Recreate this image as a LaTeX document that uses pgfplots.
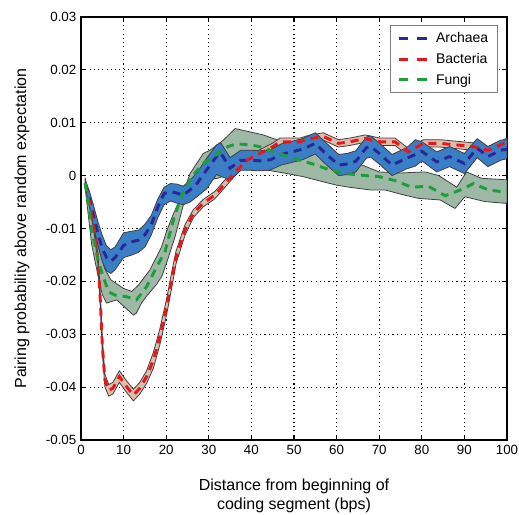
\documentclass[border=0pt]{standalone}
\usepackage{fontspec}
\setmainfont{Liberation Sans}
\usepackage{pgfplots}
\pgfplotsset{compat=1.18}

\definecolor{bandA}{RGB}{58,126,198}
\definecolor{lineA}{RGB}{42,40,150}
\definecolor{bandB}{RGB}{222,188,172}
\definecolor{lineB}{RGB}{232,22,27}
\definecolor{bandF}{RGB}{158,184,166}
\definecolor{lineF}{RGB}{30,158,58}

\begin{document}
\begin{tikzpicture}
\begin{axis}[
    name=ax,
    scale only axis,
    width=319.5pt, height=317.25pt,
    xmin=0, xmax=100, ymin=-0.05, ymax=0.03,
    xtick={0,10,20,30,40,50,60,70,80,90,100},
    ytick={-0.05,-0.04,-0.03,-0.02,-0.01,0,0.01,0.02,0.03},
    scaled y ticks=false,
    yticklabel style={/pgf/number format/fixed, /pgf/number format/precision=2},
    /pgf/number format/assume math mode=true,
    ticklabel style={font=\fontsize{10}{12}\selectfont},
    tick align=inside,
    major tick length=4pt,
    tick style={black, line width=0.9pt},
    axis line style={line width=1.5pt},
    grid=major,
    major grid style={black, line width=0.8pt, dash pattern=on 0.8pt off 2.4pt},
    xlabel={Distance from beginning of\\coding segment (bps)},
    ylabel={Pairing probability above random expectation},
    label style={font=\fontsize{12}{14}\selectfont},
    xlabel style={at={(axis description cs:0.5,-0.132)}, anchor=center, align=center},
    ylabel style={at={(axis description cs:-0.1385,0.5)}, anchor=center},
    legend cell align=left,
    legend style={at={(0.979,0.981)}, anchor=north east, draw=gray, line width=0.8pt,
        font=\fontsize{10.5}{12}\selectfont, row sep=2.5pt, column sep=3pt,
        inner xsep=5pt, inner ysep=3pt, nodes={inner xsep=2pt}},
    legend image code/.code={\draw[#1, dash pattern=on 7pt off 7pt] (0pt,0pt) -- (22pt,0pt);},
]
% confidence bands: fungi, bacteria, archaea
\addplot[fill=bandF, draw=black!75, line width=0.6pt, forget plot] coordinates {
(1,-0.0005) (2.5,-0.0080) (4,-0.0135) (4.5,-0.0145) (5.5,-0.0175) (7,-0.0197) (9.9,-0.0213)
(11.9,-0.0219) (13.5,-0.0207) (16.2,-0.0178) (18.9,-0.0135) (20.1,-0.0105) (21.7,-0.0072)
(24.4,-0.0024) (25.6,0.0004) (28.7,0.0042) (30.3,0.0048) (33.4,0.0067) (36.2,0.0089)
(42.8,0.0077) (45.2,0.0070) (50,0.0060) (54.5,0.0055) (58,0.0052) (60,0.0036) (63,0.0030)
(66,0.0020) (70,0.0007) (75,0.0005) (80.8,0.0007) (84,0.0000) (88.2,-0.0022) (90.5,0.0007)
(94,-0.0005) (100,-0.0008)
(100,-0.0052) (99.1,-0.0052) (94.8,-0.0049) (90.1,-0.0040) (87.8,-0.0062) (84.3,-0.0046)
(79.2,-0.0043) (75,-0.0035) (71.4,-0.0027) (67.8,-0.0027) (63,-0.0022) (60,-0.0018)
(56,-0.0010) (52.2,-0.0002) (48.3,0.0004) (44,0.0010) (40,0.0012) (36.5,0.0017) (35,0.0008)
(33.8,0.0001) (32.2,-0.0005) (28.7,-0.0008) (26,-0.0035) (24,-0.0056) (22.1,-0.0115)
(20.1,-0.0165) (19,-0.0190) (17.8,-0.0205) (15.4,-0.0228) (14.2,-0.0241) (13,-0.0260)
(12.3,-0.0264) (10.7,-0.0252) (8.4,-0.0235) (6,-0.0241) (5,-0.0225) (4,-0.0190) (2.5,-0.0130)
(1,-0.0025)
} -- cycle;
\addplot[fill=bandB, draw=black!75, line width=0.6pt, forget plot] coordinates {
(1,-0.0009) (2,-0.0046) (3,-0.0091) (4,-0.0150) (4.5,-0.0215) (5,-0.0305) (5.6,-0.0375)
(6.5,-0.0395) (7.5,-0.0391) (9,-0.0369) (10.7,-0.0388) (12.3,-0.0404) (13.8,-0.0391)
(15.4,-0.0369) (17,-0.0334) (18.5,-0.0290) (20.1,-0.0233) (21.3,-0.0182) (22.3,-0.0143)
(24.4,-0.0093) (26.4,-0.0064) (28.7,-0.0045) (31.4,-0.0030) (33.8,-0.0008) (36.2,0.0014)
(38.9,0.0036) (42,0.0049) (45.1,0.0062) (46.7,0.0071) (51.4,0.0071) (53.8,0.0077)
(56.9,0.0081) (60.4,0.0068) (63.1,0.0071) (66.7,0.0077) (70.2,0.0071) (73.7,0.0071)
(76.8,0.0052) (80.4,0.0068) (84.3,0.0068) (88.2,0.0065) (92.1,0.0062) (95.6,0.0055)
(98.4,0.0065) (100,0.0071)
(100,0.0057) (98.4,0.0051) (95.6,0.0041) (92.1,0.0048) (88.2,0.0051) (84.3,0.0054)
(80.4,0.0054) (76.8,0.0038) (73.7,0.0057) (70.2,0.0057) (66.7,0.0063) (63.1,0.0057)
(60.4,0.0054) (56.9,0.0067) (53.8,0.0063) (51.4,0.0057) (46.7,0.0057) (45.1,0.0048)
(42,0.0035) (38.9,0.0022) (36.2,0.0000) (33.8,-0.0022) (31.4,-0.0044) (28.7,-0.0059)
(26.4,-0.0079) (24.4,-0.0113) (22.3,-0.0167) (21.3,-0.0212) (20.1,-0.0263) (18.5,-0.0320)
(17,-0.0364) (15.4,-0.0393) (13.8,-0.0413) (12.3,-0.0426) (10.7,-0.0410) (9,-0.0391)
(7.5,-0.0413) (6.5,-0.0417) (5.6,-0.0399) (5,-0.0335) (4.5,-0.0245) (4,-0.0170) (3,-0.0103)
(2,-0.0058) (1,-0.0021)
} -- cycle;
\addplot[fill=bandA, draw=black!75, line width=0.6pt, forget plot] coordinates {
(1,-0.0008) (2,-0.0030) (3,-0.0058) (4,-0.0088) (5,-0.0113) (6,-0.0133) (7,-0.0140)
(8,-0.0135) (10,-0.0108) (12,-0.0105) (13.5,-0.0103) (15,-0.0092) (16.5,-0.0075)
(18,-0.0045) (19.5,-0.0022) (21,-0.0015) (22.5,-0.0016) (24,-0.0020) (25.6,-0.0008)
(27.2,0.0005) (29.5,0.0033) (31.8,0.0058) (32.8,0.0062) (35,0.0034) (37.5,0.0048)
(40,0.0048) (42,0.0047) (44.5,0.0049) (47,0.0060) (50,0.0066) (52,0.0070) (55,0.0081)
(57,0.0066) (58.5,0.0055) (60.5,0.0040) (62.5,0.0042) (64.5,0.0047) (67,0.0073) (68,0.0075)
(70,0.0062) (73,0.0040) (76.5,0.0053) (78.5,0.0068) (80,0.0064) (83.5,0.0045) (86.5,0.0055)
(90,0.0042) (93,0.0070) (95.5,0.0055) (98.5,0.0067) (100,0.0068)
(100,0.0032) (98.5,0.0029) (95.5,0.0017) (93,0.0034) (90,0.0004) (86.5,0.0017) (83.5,0.0007)
(80,0.0028) (78.5,0.0018) (76.5,0.0013) (73,0.0000) (70,0.0022) (68,0.0035) (67,0.0033)
(64.5,0.0007) (62.5,0.0002) (60.5,0.0000) (58.5,0.0014) (57,0.0025) (55,0.0041) (52,0.0030)
(50,0.0026) (47,0.0020) (44.5,0.0011) (42,0.0009) (40,0.0010) (37.5,0.0010) (35,-0.0008)
(33,-0.0002) (31.8,0.0002) (29.5,-0.0025) (27.2,-0.0040) (25.6,-0.0050) (24,-0.0055)
(22.5,-0.0052) (21,-0.0048) (19.5,-0.0055) (18,-0.0080) (16.5,-0.0112) (15,-0.0135)
(13.5,-0.0145) (12,-0.0150) (10,-0.0155) (8,-0.0178) (7,-0.0185) (6,-0.0180) (5,-0.0163)
(4,-0.0132) (3,-0.0098) (2,-0.0060) (1,-0.0022)
} -- cycle;
% mean curves
\addplot[lineA, line width=2.2pt, dash pattern=on 6pt off 4.5pt] coordinates {
(1,-0.0015) (2,-0.0045) (3,-0.0078) (4,-0.0110) (5,-0.0138) (6,-0.0155) (7,-0.0162)
(8,-0.0155) (10,-0.0132) (12,-0.0125) (13.5,-0.0122) (15,-0.0112) (16.5,-0.0093) (18,-0.0060)
(19.5,-0.0034) (21,-0.0030) (22.5,-0.0033) (24,-0.0037) (25.6,-0.0027) (27.2,-0.0015)
(29.5,0.0011) (31.8,0.0036) (32.8,0.0043) (35,0.0014) (37.5,0.0029) (40,0.0029) (42,0.0028)
(44.5,0.0030) (47,0.0040) (50,0.0046) (52,0.0050) (55,0.0061) (57,0.0045) (58.5,0.0034)
(60.5,0.0020) (62.5,0.0022) (64.5,0.0027) (67,0.0053) (68,0.0055) (70,0.0042) (73,0.0020)
(76.5,0.0033) (78.5,0.0040) (80,0.0046) (83.5,0.0026) (86.5,0.0036) (90,0.0023) (93,0.0052)
(95.5,0.0036) (98.5,0.0048) (100,0.0050)
};
\addlegendentry{Archaea}
\addplot[lineB, line width=2.2pt, dash pattern=on 6pt off 4.5pt] coordinates {
(1,-0.0015) (2,-0.0052) (3,-0.0097) (4,-0.0160) (4.5,-0.0230) (5,-0.0320) (5.6,-0.0386)
(6.5,-0.0406) (7.5,-0.0402) (9,-0.0380) (10.7,-0.0399) (12.3,-0.0415) (13.8,-0.0402)
(15.4,-0.0380) (17,-0.0349) (18.5,-0.0305) (20.1,-0.0248) (21.3,-0.0197) (22.3,-0.0155)
(24.4,-0.0103) (26.4,-0.0071) (28.7,-0.0052) (31.4,-0.0037) (33.8,-0.0015) (36.2,0.0007)
(38.9,0.0029) (42,0.0042) (45.1,0.0055) (46.7,0.0064) (51.4,0.0064) (53.8,0.0070)
(56.9,0.0074) (60.4,0.0061) (63.1,0.0064) (66.7,0.0070) (70.2,0.0064) (73.7,0.0064)
(76.8,0.0045) (80.4,0.0061) (84.3,0.0061) (88.2,0.0058) (92.1,0.0055) (95.6,0.0048)
(98.4,0.0058) (100,0.0064)
};
\addlegendentry{Bacteria}
\addplot[lineF, line width=2.2pt, dash pattern=on 6pt off 4.5pt] coordinates {
(1,-0.0015) (1.5,-0.0040) (2.5,-0.0103) (4,-0.0160) (5.2,-0.0191) (6.5,-0.0220) (8,-0.0226)
(10.7,-0.0229) (13,-0.0235) (15.4,-0.0210) (17.8,-0.0172) (19.7,-0.0144) (21.7,-0.0084)
(23.5,-0.0040) (26,-0.0002) (28.7,0.0023) (32.2,0.0042) (34.5,0.0055) (36.5,0.0060)
(40,0.0058) (43.5,0.0052) (45,0.0045) (48,0.0038) (51,0.0030) (54,0.0023) (58,0.0012)
(62,0.0004) (65.5,0.0001) (70,-0.0002) (74,-0.0010) (77.6,-0.0022) (81.5,-0.0020)
(85.5,-0.0038) (89.4,-0.0026) (92.1,-0.0015) (95.6,-0.0027) (98.4,-0.0030) (100,-0.0030)
};
\addlegendentry{Fungi}
\end{axis}
\pgfresetboundingbox
\path[use as bounding box] ([xshift=-60.75pt,yshift=-55.5pt]ax.south west)
    rectangle ([xshift=9pt,yshift=12.75pt]ax.north east);
\end{tikzpicture}
\end{document}
